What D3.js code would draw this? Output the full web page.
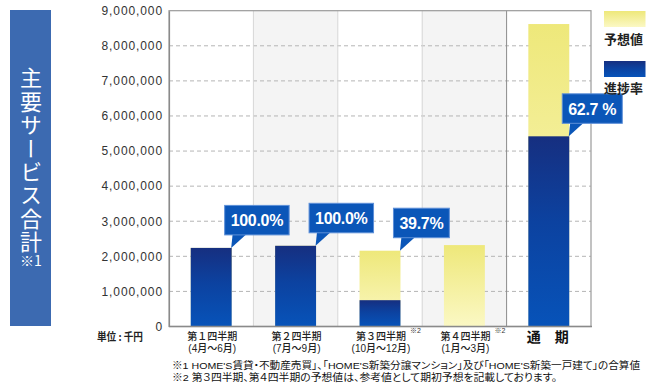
<!DOCTYPE html>
<html><head><meta charset="utf-8">
<script src="https://cdn.jsdelivr.net/npm/d3@7"></script>
<style>
html,body{margin:0;padding:0;background:#fff;}
svg{display:block;}
text{font-family:"Liberation Sans",Arial,sans-serif;}
.jp{font-family:"Noto Sans CJK JP","Noto Sans",sans-serif;}
.lj{font-family:"Liberation Sans","Noto Sans CJK JP",sans-serif;}
.palt{font-feature-settings:"palt" 1;}
</style></head>
<body>
<script>
// ---- data ----
const categories = ["第１四半期", "第２四半期", "第３四半期", "第４四半期", "通　期"];
const periods = ["(4月〜6月)", "(7月〜9月)", "(10月〜12月)", "(1月〜3月)", ""];
const noteMarks = ["", "", "※2", "※2", ""];
const forecast = [2240000, 2300000, 2160000, 2320000, 8620000];
const actual = [2240000, 2300000, 750000, null, 5420000];
const progressLabels = ["100.0%", "100.0%", "39.7%", null, "62.7 %"];
const yTicks = [0, 1000000, 2000000, 3000000, 4000000, 5000000, 6000000, 7000000, 8000000, 9000000];
const legendLabels = ["予想値", "進捗率"];
const title = "主要サービス合計";
const titleNote = "※1";
const unitLabel = "単位 : 千円";
const footnotes = [
  "※1 HOME'S賃貸・不動産売買」、「HOME'S新築分譲マンション」及び「HOME'S新築一戸建て」の合算値",
  "※2 第３四半期、第４四半期の予想値は、参考値として期初予想を記載しております。"
];

const W = 650, H = 391;
const svg = d3.select("body").append("svg").attr("width", W).attr("height", H);
const defs = svg.append("defs");
const gb = defs.append("linearGradient").attr("id", "gBlue").attr("x1", 0).attr("y1", 0).attr("x2", 0).attr("y2", 1);
gb.append("stop").attr("offset", "0%").attr("stop-color", "#162f80");
gb.append("stop").attr("offset", "45%").attr("stop-color", "#0c42a0");
gb.append("stop").attr("offset", "100%").attr("stop-color", "#0753b9");
const gy = defs.append("linearGradient").attr("id", "gYellow").attr("x1", 0).attr("y1", 0).attr("x2", 0).attr("y2", 1);
gy.append("stop").attr("offset", "0%").attr("stop-color", "#eee87a");
gy.append("stop").attr("offset", "100%").attr("stop-color", "#fbf8c4");

const plot = {left: 169, right: 591, top: 10.7, bottom: 326.5};
const x = d3.scaleBand().domain(d3.range(categories.length)).range([plot.left, plot.right]).paddingInner(0).paddingOuter(0);
const y = d3.scaleLinear().domain([0, 9000000]).range([plot.bottom, plot.top]);
const bw = x.bandwidth() * 0.485;

// title box
svg.append("rect").attr("x", 10).attr("y", 10).attr("width", 41).attr("height", 316).attr("fill", "#3c6ab1");
svg.append("text").attr("class", "jp").attr("x", 31).attr("y", 67)
  .style("writing-mode", "vertical-rl").attr("font-size", 22).attr("letter-spacing", 1.4)
  .attr("fill", "#fff").text(title);
svg.append("text").attr("class", "jp").attr("x", 31).attr("y", 266).attr("text-anchor", "middle")
  .attr("font-size", 14).attr("fill", "#fff").text(titleNote);

// column backgrounds
svg.append("g").selectAll("rect").data(d3.range(categories.length)).join("rect")
  .attr("x", i => x(i)).attr("y", plot.top).attr("width", x.bandwidth()).attr("height", plot.bottom - plot.top)
  .attr("fill", i => i % 2 === 1 ? "#f4f4f4" : "#fff");

// grid lines
svg.append("g").selectAll("line").data(yTicks.filter(t => t > 0 && t < 9000000)).join("line")
  .attr("x1", plot.left).attr("x2", plot.right).attr("y1", d => y(d)).attr("y2", d => y(d))
  .attr("stroke", "#b5b5b5").attr("stroke-dasharray", "4,3").attr("stroke-width", 1);

// separators
svg.append("g").selectAll("line").data(d3.range(1, categories.length)).join("line")
  .attr("x1", i => x(i)).attr("x2", i => x(i)).attr("y1", plot.top).attr("y2", plot.bottom)
  .attr("stroke", i => i === categories.length - 1 ? "#8a8a8a" : "#d6d6d6").attr("stroke-width", 1);

// frame
svg.append("rect").attr("x", plot.left).attr("y", plot.top).attr("width", plot.right - plot.left)
  .attr("height", plot.bottom - plot.top).attr("fill", "none").attr("stroke", "#9a9a9a").attr("stroke-width", 1.2);

// bars: forecast (yellow) then actual (blue)
const bars = svg.append("g");
bars.selectAll("rect.f").data(forecast.map((v, i) => ({v, i})).filter(d => d.v != null)).join("rect")
  .attr("class", "f").attr("x", d => x(d.i) + (x.bandwidth() - bw) / 2).attr("y", d => y(d.v))
  .attr("width", bw).attr("height", d => y(0) - y(d.v)).attr("fill", "url(#gYellow)");
bars.selectAll("rect.a").data(actual.map((v, i) => ({v, i})).filter(d => d.v != null)).join("rect")
  .attr("class", "a").attr("x", d => x(d.i) + (x.bandwidth() - bw) / 2).attr("y", d => y(d.v))
  .attr("width", bw).attr("height", d => y(0) - y(d.v)).attr("fill", "url(#gBlue)");

// bottom axis line
svg.append("line").attr("x1", plot.left).attr("x2", plot.right + 1).attr("y1", plot.bottom).attr("y2", plot.bottom)
  .attr("stroke", "#8a8a8a").attr("stroke-width", 1.5);

// y axis
const yAxis = d3.axisLeft(y).tickValues(yTicks).tickSize(0).tickPadding(6).tickFormat(d3.format(","));
const ya = svg.append("g").attr("transform", `translate(${plot.left},0)`).call(yAxis);
ya.select(".domain").attr("stroke", "#8a8a8a").attr("stroke-width", 1.2);
ya.selectAll("text").attr("font-family", "'Liberation Sans',Arial,sans-serif").attr("font-size", 12)
  .attr("letter-spacing", 0.9).attr("fill", "#333");

// x labels
const xl = svg.append("g");
categories.forEach((c, i) => {
  const cx = x(i) + x.bandwidth() / 2;
  if (i === categories.length - 1) {
    xl.append("text").attr("class", "jp").attr("x", cx - 1).attr("y", 342).attr("text-anchor", "middle")
      .attr("font-size", 14).attr("font-weight", "bold").attr("fill", "#111").text(c);
  } else {
    xl.append("text").attr("class", "lj").attr("x", cx + 1).attr("y", 340).attr("text-anchor", "middle")
      .attr("font-size", 10).attr("font-weight", 500).attr("fill", "#222").text(c);
    xl.append("text").attr("class", "lj").attr("x", cx + 1).attr("y", 351.5).attr("text-anchor", "middle")
      .attr("font-size", 10).attr("font-weight", 500).attr("fill", "#222").text(periods[i]);
    if (noteMarks[i]) {
      xl.append("text").attr("class", "lj").attr("x", cx + 30).attr("y", 333).attr("font-size", 7)
        .attr("fill", "#333").text(noteMarks[i]);
    }
  }
});
svg.append("text").attr("class", "jp").attr("x", 97).attr("y", 340.5).attr("font-size", 11)
  .attr("font-weight", "bold").attr("fill", "#222").attr("textLength", 46).attr("lengthAdjust", "spacingAndGlyphs").text(unitLabel);

// callouts
const co = svg.append("g");
progressLabels.forEach((lab, i) => {
  if (!lab) return;
  const top = Math.min(y(actual[i]), y(forecast[i]));
  const barRight = x(i) + (x.bandwidth() + bw) / 2;
  const g = co.append("g");
  const t = g.append("text").attr("font-size", 16).attr("font-weight", "bold").attr("letter-spacing", -0.3)
    .attr("fill", "#fff").text(lab);
  const tw = t.node().getComputedTextLength();
  const rw = tw + 12, rh = 29.5;
  const yi = i === 4 ? y(actual[i]) : top;
  const rx = barRight - 7, ry = yi - 13 - rh;
  g.insert("path", "text").attr("d", `M${rx + 8},${ry + rh - 1}L${rx + 22},${ry + rh - 1}L${barRight - 0.5},${yi}Z`).attr("fill", "#0b56b8");
  g.insert("rect", "text").attr("x", rx).attr("y", ry).attr("width", rw).attr("height", rh)
    .attr("fill", "#0b56b8").attr("stroke", "#5d8fd8").attr("stroke-width", 1);
  t.attr("x", rx + rw / 2).attr("y", ry + rh / 2 + 6).attr("text-anchor", "middle");
});

// legend
const lg = svg.append("g");
["url(#gYellow)", "url(#gBlue)"].forEach((f, i) => {
  lg.append("rect").attr("x", 604).attr("y", 11 + i * 50).attr("width", 41.5).attr("height", 16).attr("fill", f);
  lg.append("text").attr("class", "jp").attr("x", 604).attr("y", 44 + i * 49).attr("font-size", 13)
    .attr("font-weight", "bold").attr("fill", "#222").text(legendLabels[i]);
});

// footnotes
footnotes.forEach((f, i) => {
  svg.append("text").attr("class", "lj palt").attr("x", 172).attr("y", 369 + i * 11.5).attr("font-size", 9.7)
    .attr("fill", "#111").attr("textLength", i === 0 ? 468 : 385).attr("lengthAdjust", "spacingAndGlyphs").text(f);
});
</script>
</body></html>
